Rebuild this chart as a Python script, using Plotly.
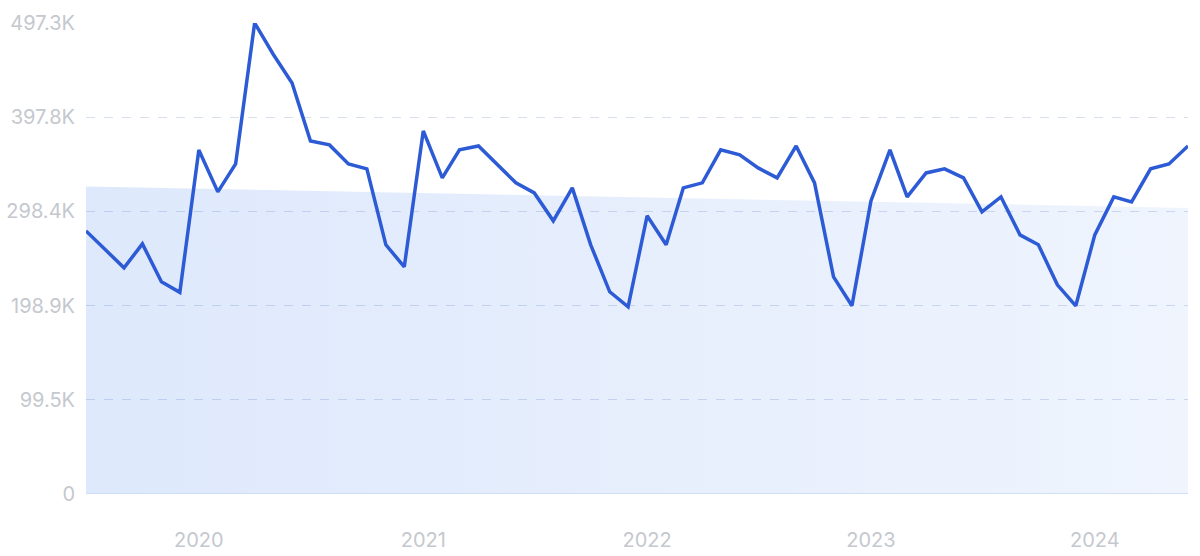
import plotly.graph_objects as go
import pandas as pd

# ---- data ----
dates = pd.date_range("2019-07-01", "2024-06-01", freq="MS")
values_k = [
    277.8, 258.8, 238.8, 264.1, 224.0, 212.9,
    363.3, 319.0, 348.5, 497.3, 464.6, 434.0, 372.8, 368.6, 348.5, 343.3, 263.1, 239.8,
    383.4, 333.8, 363.3, 367.5, 348.5, 328.5, 317.9, 288.4, 323.2, 263.1, 213.5, 197.6,
    293.7, 263.1, 323.2, 328.5, 363.3, 358.0, 344.3, 333.8, 367.5, 328.5, 229.3, 198.7,
    309.5, 363.3, 313.7, 339.0, 343.3, 333.8, 297.9, 313.7, 273.6, 263.1, 220.9, 198.7,
    273.6, 313.7, 308.4, 343.3, 348.5, 367.5,
]
trend_k = [324.6, 302.1]  # trend level at first and last month
tick_vals_k = [0, 99.46, 198.92, 298.38, 397.84, 497.3]
tick_text = ["0", "99.5K", "198.9K", "298.4K", "397.8K", "497.3K"]
year_ticks = ["2020-01-01", "2021-01-01", "2022-01-01", "2023-01-01", "2024-01-01"]
year_labels = ["2020", "2021", "2022", "2023", "2024"]

values = [v * 1000 for v in values_k]
trend = [v * 1000 for v in trend_k]
tick_vals = [v * 1000 for v in tick_vals_k]

fig = go.Figure()

# trend area (semi-transparent so the grid shows through)
fig.add_trace(go.Scatter(
    x=[dates[0], dates[-1], dates[-1], dates[0]],
    y=[trend[0], trend[1], 0, 0],
    fill="toself",
    mode="none",
    fillgradient=dict(
        type="horizontal",
        colorscale=[[0, "rgba(70,130,238,0.18)"], [1, "rgba(70,130,238,0.085)"]],
    ),
    hoverinfo="skip",
    showlegend=False,
))

fig.add_trace(go.Scatter(
    x=dates, y=values,
    mode="lines",
    line=dict(color="#2d5bd5", width=3.5),
    showlegend=False,
))

font_family = "Inter, Lato, sans-serif"
label_color = "#c5c8ce"

fig.update_layout(
    width=1200, height=556,
    margin=dict(l=86, r=12, t=23, b=62),
    paper_bgcolor="white",
    plot_bgcolor="white",
    xaxis=dict(
        range=[dates[0], dates[-1]],
        tickvals=year_ticks,
        ticktext=year_labels,
        showgrid=False,
        zeroline=False,
        showline=False,
        ticks="",
        automargin=False,
        ticklabelstandoff=32,
        tickfont=dict(family=font_family, size=20, color=label_color),
    ),
    yaxis=dict(
        range=[0, 497.3 * 1000],
        tickvals=tick_vals,
        ticktext=tick_text,
        showgrid=True,
        gridcolor="#d6dfee",
        griddash="dash",
        gridwidth=1,
        zeroline=False,
        showline=False,
        ticks="",
        automargin=False,
        ticklabelstandoff=10,
        tickfont=dict(family=font_family, size=20, color=label_color),
    ),
)

# baseline at zero
fig.add_shape(type="line", xref="paper", yref="y", x0=0, x1=1, y0=0, y1=0,
              line=dict(color="#c9daf3", width=1.5), layer="above")

fig.write_html(
    "out.html",
    config={"displayModeBar": False},
    post_script="document.body.style.margin='0';document.body.style.overflow='hidden';",
)
